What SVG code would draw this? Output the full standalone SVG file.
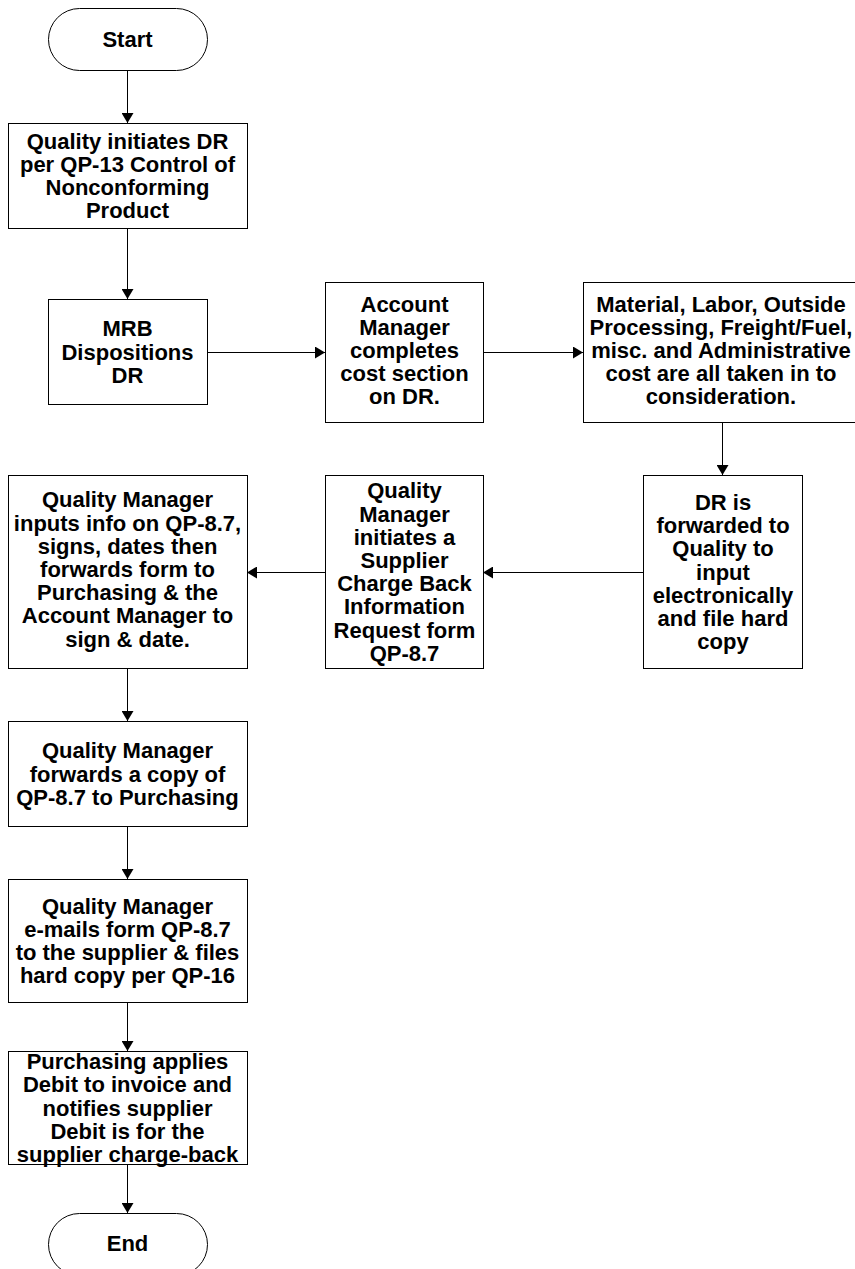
<svg xmlns="http://www.w3.org/2000/svg" width="855" height="1269" viewBox="0 0 855 1269">
<style>
.box{fill:#fff;stroke:#000;stroke-width:1}
.t{font-family:"Liberation Sans",Arial,sans-serif;font-weight:bold;font-size:22px;fill:#000;text-anchor:middle}
.c{fill:none;stroke:#000;stroke-width:1;marker-end:url(#ah)}
</style>
<defs>
<marker id="ah" markerUnits="userSpaceOnUse" markerWidth="11" markerHeight="12" refX="10" refY="6" orient="auto">
<path d="M0,0 L10,6 L0,12 z" fill="#000"/>
</marker>
</defs>
<rect width="855" height="1269" fill="#fff"/>
<g id="connectors">
<line class="c" x1="127.5" y1="70" x2="127.5" y2="123"/>
<line class="c" x1="127.5" y1="228" x2="127.5" y2="299"/>
<line class="c" x1="207" y1="352.5" x2="325" y2="352.5"/>
<line class="c" x1="484" y1="352.5" x2="583" y2="352.5"/>
<line class="c" x1="722.5" y1="422" x2="722.5" y2="475"/>
<line class="c" x1="643" y1="572.5" x2="483" y2="572.5"/>
<line class="c" x1="325" y1="572.5" x2="247" y2="572.5"/>
<line class="c" x1="127.5" y1="668" x2="127.5" y2="721"/>
<line class="c" x1="127.5" y1="826" x2="127.5" y2="879"/>
<line class="c" x1="127.5" y1="1002" x2="127.5" y2="1051"/>
<line class="c" x1="127.5" y1="1164" x2="127.5" y2="1213"/>
</g>
<g id="start">
<rect class="box" x="48.5" y="8.5" width="159" height="62" rx="31" ry="31"/>
<text class="t" x="127.5" y="47">Start</text>
</g>
<g id="initiate">
<rect class="box" x="8.5" y="123.5" width="239" height="105"/>
<text class="t" x="127.5" y="148.7">Quality initiates DR</text>
<text class="t" x="127.5" y="171.9">per QP-13 Control of</text>
<text class="t" x="127.5" y="195.1">Nonconforming</text>
<text class="t" x="127.5" y="218.3">Product</text>
</g>
<g id="mrb">
<rect class="box" x="48.5" y="299.5" width="159" height="105"/>
<text class="t" x="127.5" y="336.3">MRB</text>
<text class="t" x="127.5" y="359.5">Dispositions</text>
<text class="t" x="127.5" y="382.7">DR</text>
</g>
<g id="account">
<rect class="box" x="325.5" y="282.5" width="158" height="140"/>
<text class="t" x="404.5" y="311.6">Account</text>
<text class="t" x="404.5" y="334.8">Manager</text>
<text class="t" x="404.5" y="358">completes</text>
<text class="t" x="404.5" y="381.2">cost section</text>
<text class="t" x="404.5" y="404.4">on DR.</text>
</g>
<g id="material">
<rect class="box" x="583.5" y="282.5" width="276" height="140"/>
<text class="t" x="721" y="311.6">Material, Labor, Outside</text>
<text class="t" x="721" y="334.8">Processing, Freight/Fuel,</text>
<text class="t" x="721" y="358">misc. and Administrative</text>
<text class="t" x="721" y="381.2">cost are all taken in to</text>
<text class="t" x="721" y="404.4">consideration.</text>
</g>
<g id="forwarded">
<rect class="box" x="643.5" y="475.5" width="159" height="193"/>
<text class="t" x="723" y="509.9">DR is</text>
<text class="t" x="723" y="533.1">forwarded to</text>
<text class="t" x="723" y="556.3">Quality to</text>
<text class="t" x="723" y="579.5">input</text>
<text class="t" x="723" y="602.7">electronically</text>
<text class="t" x="723" y="625.9">and file hard</text>
<text class="t" x="723" y="649.1">copy</text>
</g>
<g id="qm-initiates">
<rect class="box" x="325.5" y="475.5" width="158" height="193"/>
<text class="t" x="404.5" y="498.3">Quality</text>
<text class="t" x="404.5" y="521.5">Manager</text>
<text class="t" x="404.5" y="544.7">initiates a</text>
<text class="t" x="404.5" y="567.9">Supplier</text>
<text class="t" x="404.5" y="591.1">Charge Back</text>
<text class="t" x="404.5" y="614.3">Information</text>
<text class="t" x="404.5" y="637.5">Request form</text>
<text class="t" x="404.5" y="660.7">QP-8.7</text>
</g>
<g id="qm-inputs">
<rect class="box" x="8.5" y="475.5" width="239" height="193"/>
<text class="t" x="127.5" y="507.4">Quality Manager</text>
<text class="t" x="127.5" y="530.6">inputs info on QP-8.7,</text>
<text class="t" x="127.5" y="553.8">signs, dates then</text>
<text class="t" x="127.5" y="577">forwards form to</text>
<text class="t" x="127.5" y="600.2">Purchasing &amp; the</text>
<text class="t" x="127.5" y="623.4">Account Manager to</text>
<text class="t" x="127.5" y="646.6">sign &amp; date.</text>
</g>
<g id="qm-forwards">
<rect class="box" x="8.5" y="721.5" width="239" height="105"/>
<text class="t" x="127.5" y="758.3">Quality Manager</text>
<text class="t" x="127.5" y="781.5">forwards a copy of</text>
<text class="t" x="127.5" y="804.7">QP-8.7 to Purchasing</text>
</g>
<g id="qm-emails">
<rect class="box" x="8.5" y="879.5" width="239" height="123"/>
<text class="t" x="127.5" y="913.7">Quality Manager</text>
<text class="t" x="127.5" y="936.9">e-mails form QP-8.7</text>
<text class="t" x="127.5" y="960.1">to the supplier &amp; files</text>
<text class="t" x="127.5" y="983.3">hard copy per QP-16</text>
</g>
<g id="purchasing">
<rect class="box" x="8.5" y="1051.5" width="239" height="113"/>
<text class="t" x="127.5" y="1069.1">Purchasing applies</text>
<text class="t" x="127.5" y="1092.3">Debit to invoice and</text>
<text class="t" x="127.5" y="1115.5">notifies supplier</text>
<text class="t" x="127.5" y="1138.7">Debit is for the</text>
<text class="t" x="127.5" y="1161.9">supplier charge-back</text>
</g>
<g id="end">
<rect class="box" x="48.5" y="1213.5" width="159" height="62" rx="31" ry="31"/>
<text class="t" x="127.5" y="1251">End</text>
</g>
</svg>
